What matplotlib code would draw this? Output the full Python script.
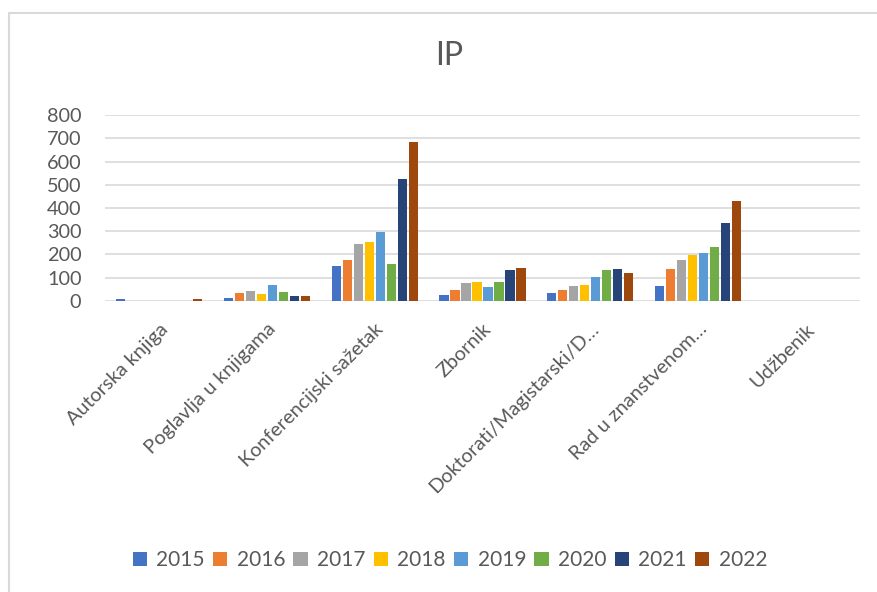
import numpy as np
import matplotlib.pyplot as plt
from matplotlib.patches import Rectangle

plt.rcParams['font.family'] = ['Lato', 'DejaVu Sans']

categories = ['Autorska knjiga', 'Poglavlja u knjigama', 'Konferencijski sažetak',
              'Zbornik', 'Doktorati/Magistarski/D…', 'Rad u znanstvenom…', 'Udžbenik']
years = ['2015', '2016', '2017', '2018', '2019', '2020', '2021', '2022']

# vrijednosti po godinama (redom kategorija)
v2015 = [8, 14, 149, 26, 34, 63, 0]
v2016 = [0, 34, 178, 47, 47, 136, 0]
v2017 = [0, 43, 244, 79, 63, 176, 0]
v2018 = [0, 31, 255, 82, 70, 198, 0]
v2019 = [0, 69, 298, 62, 102, 205, 0]
v2020 = [0, 37, 159, 83, 133, 232, 0]
v2021 = [0, 20, 523, 133, 138, 334, 0]
v2022 = [8, 20, 685, 143, 119, 429, 0]
series = [v2015, v2016, v2017, v2018, v2019, v2020, v2021, v2022]

colors = ['#4472C4', '#ED7D31', '#A5A5A5', '#FFC000',
          '#5B9BD5', '#70AD47', '#264478', '#9E480E']
text_col = '#595959'

fig = plt.figure(figsize=(8.77, 5.92), dpi=100)
ax = fig.add_axes([0.1197, 0.4916, 0.8609, 0.3141])

x = np.arange(len(categories))
slot = 0.102
width = 0.084
for i, (vals, c) in enumerate(zip(series, colors)):
    ax.bar(x + (i - 3.5) * slot, vals, width, color=c, label=years[i], zorder=3)

ax.set_xlim(-0.5, len(categories) - 0.5)
ax.set_ylim(0, 800)
ax.set_yticks(range(0, 801, 100))
ax.yaxis.grid(True, color='#D9D9D9', linewidth=1.2, zorder=0)
for s in ax.spines.values():
    s.set_visible(False)
ax.tick_params(axis='both', length=0, colors=text_col, labelsize=14.3)
ax.tick_params(axis='y', pad=17)
ax.set_xticks(x)
ax.set_xticklabels(categories, rotation=45, ha='right', rotation_mode='anchor')
ax.tick_params(axis='x', pad=14)

fig.text(0.512, 0.905, 'IP', ha='center', va='center', fontsize=23, color=text_col)

fig.legend(loc='center', bbox_to_anchor=(0.513, 0.054), ncol=8, frameon=False,
           fontsize=15, handlelength=0.68, handleheight=0.68, handletextpad=0.45,
           columnspacing=0.4, labelcolor=text_col)

fig.patches.append(Rectangle((9 / 877, -0.1), 1.2, 1 - 13 / 592 + 0.1,
                             transform=fig.transFigure, fill=False,
                             edgecolor='#D9D9D9', linewidth=1.5))

fig.savefig('out.png', dpi=100)
